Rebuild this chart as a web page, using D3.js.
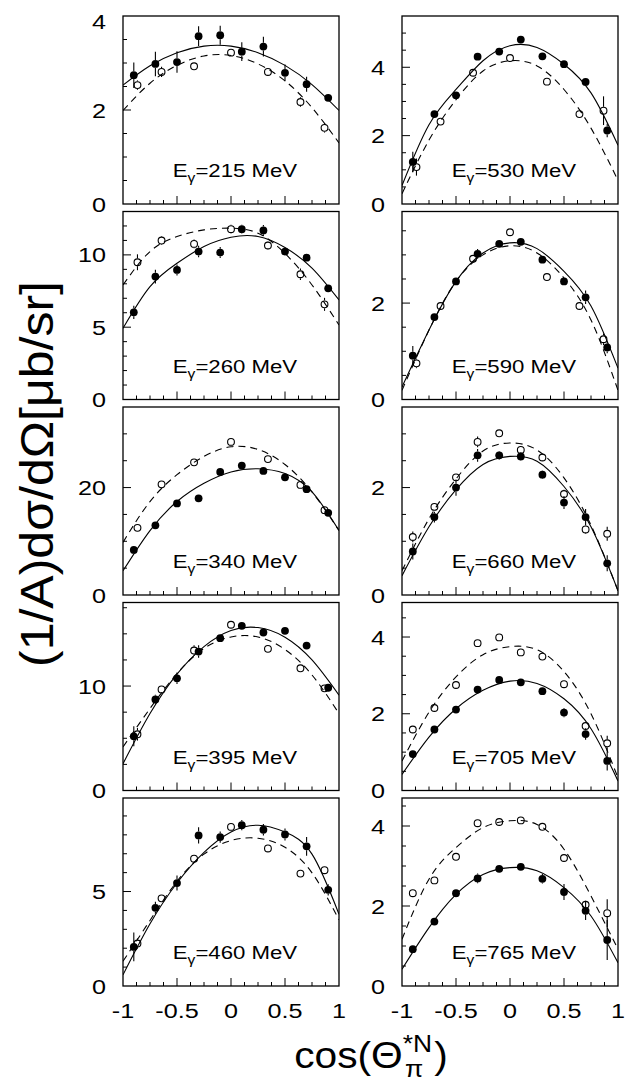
<!DOCTYPE html>
<html><head><meta charset="utf-8">
<script src="https://cdn.jsdelivr.net/npm/d3@7"></script>
<style>
body{margin:0;background:#fff}
svg{display:block}
text{font-family:"Liberation Sans",Arial,sans-serif;fill:#000}
</style>
</head><body>
<svg id="chart" width="631" height="1084"></svg>
<script>
// ---------------- data ----------------
const energies = [215, 530, 260, 590, 340, 660, 395, 705, 460, 765];
const yMax   = [4, 5.5, 13, 3.9, 35, 3.5, 18, 4.9, 9.95, 4.7];
const yMajor = [2, 2, 5, 2, 20, 2, 10, 2, 5, 2];
const yMinor = [0.5, 0.5, 1, 0.5, 5, 0.5, 2.5, 0.5, 1, 0.5];
const xTickValues = [-1, -0.5, 0, 0.5, 1];
const xTickLabels = ["-1", "-0.5", "0", "0.5", "1"];
const cosFine = [-0.9, -0.7, -0.5, -0.3, -0.1, 0.1, 0.3, 0.5, 0.7, 0.9];
const cosBins = [-0.866, -0.643, -0.342, 0, 0.342, 0.643, 0.866];
const cosCurve = [-1, -0.75, -0.5, -0.25, 0, 0.25, 0.5, 0.75, 1];
const openOnFine = [false, false, false, false, false, true, false, true, false, true];

const filledY = [
  [2.74, 2.98, 3.02, 3.57, 3.59, 3.24, 3.35, 2.79, 2.55, 2.26],
  [1.23, 2.63, 3.18, 4.31, 4.46, 4.81, 4.32, 4.09, 3.57, 2.15],
  [6.03, 8.5, 8.96, 10.23, 10.16, 11.78, 11.69, 10.23, 9.81, 7.69],
  [0.91, 1.71, 2.45, 3.02, 3.23, 3.27, 2.90, 2.45, 2.12, 1.08],
  [8.4, 12.98, 17.05, 18.0, 22.9, 24.1, 23.1, 21.9, 19.7, 15.3],
  [0.81, 1.45, 2.0, 2.6, 2.6, 2.58, 2.24, 1.72, 1.45, 0.59],
  [5.19, 8.72, 10.74, 13.3, 14.58, 15.77, 15.13, 15.29, 13.88, 9.84],
  [0.95, 1.59, 2.11, 2.63, 2.88, 2.82, 2.59, 2.03, 1.47, 0.77],
  [2.07, 4.14, 5.45, 7.97, 7.88, 8.51, 8.27, 8.02, 7.39, 5.09],
  [0.92, 1.61, 2.32, 2.69, 2.93, 2.98, 2.68, 2.35, 1.88, 1.15]
];
const filledErr = [
  [0.27, 0.26, 0.23, 0.21, 0.2, 0.2, 0.21, 0.18, 0.16, 0.08],
  [0.3, 0.1, 0.08, 0.08, 0.08, 0.08, 0.08, 0.08, 0.1, 0.2],
  [0.46, 0.48, 0.38, 0.4, 0.38, 0.3, 0.38, 0.2, 0.2, 0.2],
  [0.2, 0.08, 0.08, 0.1, 0.06, 0.06, 0.06, 0.08, 0.14, 0.12],
  [0.5, 0.5, 0.5, 0.5, 0.5, 0.5, 0.5, 0.5, 0.5, 0.6],
  [0.15, 0.1, 0.15, 0.12, 0.08, 0.08, 0.08, 0.12, 0.15, 0.15],
  [0.96, 0.45, 0.55, 0.6, 0.3, 0.3, 0.3, 0.3, 0.3, 0.3],
  [0.08, 0.06, 0.08, 0.1, 0.06, 0.06, 0.06, 0.12, 0.15, 0.25],
  [0.76, 0.32, 0.4, 0.43, 0.3, 0.27, 0.3, 0.32, 0.5, 0.3],
  [0.08, 0.06, 0.1, 0.12, 0.06, 0.06, 0.12, 0.2, 0.23, 0.5]
];
const openY = [
  [2.53, 2.81, 2.93, 3.22, 2.81, 2.17, 1.62],
  [1.08, 2.41, 3.84, 4.27, 3.58, 2.63, 2.73],
  [9.49, 10.99, 10.76, 11.78, 10.65, 8.66, 6.58],
  [0.75, 1.94, 2.92, 3.47, 2.54, 1.94, 1.25],
  [12.5, 20.6, 24.7, 28.5, 25.3, 20.5, 15.8],
  [1.08, 1.64, 2.19, 2.85, 3.01, 2.70, 2.56, 1.88, 1.22, 1.14],
  [5.38, 9.68, 13.4, 15.87, 13.56, 11.7, 9.78],
  [1.59, 2.15, 2.75, 3.84, 3.99, 3.6, 3.49, 2.77, 1.68, 1.23],
  [2.25, 4.64, 6.74, 8.42, 7.28, 5.95, 6.13],
  [2.32, 2.64, 3.23, 4.07, 4.1, 4.14, 3.98, 3.2, 2.03, 1.82]
];
const openErr = [
  [0.1, 0.11, 0.08, 0.08, 0.08, 0.1, 0.1],
  [0.25, 0.1, 0.08, 0.08, 0.08, 0.1, 0.42],
  [0.55, 0.3, 0.3, 0.3, 0.3, 0.4, 0.45],
  [0.1, 0.06, 0.06, 0.06, 0.06, 0.06, 0.12],
  [0.5, 0.5, 0.5, 0.5, 0.5, 0.5, 0.5],
  [0.1, 0.06, 0.06, 0.1, 0.06, 0.06, 0.06, 0.08, 0.08, 0.13],
  [0.6, 0.3, 0.5, 0.3, 0.3, 0.3, 0.3],
  [0.1, 0.06, 0.06, 0.06, 0.06, 0.06, 0.06, 0.06, 0.1, 0.2],
  [0.27, 0.2, 0.2, 0.2, 0.2, 0.2, 0.2],
  [0.08, 0.08, 0.08, 0.08, 0.06, 0.06, 0.08, 0.08, 0.1, 0.35]
];
const solidCurve = [
  [2.53, 2.94, 3.22, 3.36, 3.36, 3.22, 2.95, 2.54, 1.99],
  [0.54, 2.32, 3.35, 4.19, 4.63, 4.58, 4.09, 3.25, 1.72],
  [4.92, 7.8, 9.42, 10.58, 11.22, 11.27, 10.51, 9.08, 6.88],
  [0.26, 1.44, 2.45, 3.04, 3.25, 3.13, 2.66, 1.94, 0.65],
  [4.5, 12.0, 17.4, 20.8, 22.9, 23.5, 22.6, 19.2, 12.0],
  [0.36, 1.27, 1.96, 2.43, 2.58, 2.49, 2.02, 1.27, 0.08],
  [2.56, 7.37, 11.15, 13.78, 15.32, 15.6, 14.68, 12.5, 9.13],
  [0.42, 1.39, 2.13, 2.61, 2.85, 2.79, 2.39, 1.61, 0.25],
  [0.59, 3.29, 5.45, 7.07, 8.15, 8.51, 8.15, 6.98, 3.8],
  [0.42, 1.46, 2.29, 2.79, 2.96, 2.88, 2.46, 1.75, 0.58]
];
const dashedCurve = [
  [1.99, 2.57, 2.95, 3.15, 3.16, 2.98, 2.62, 2.05, 1.3],
  [0.3, 1.87, 3.05, 3.89, 4.19, 4.04, 3.35, 2.22, 0.69],
  [7.92, 10.23, 11.27, 11.73, 11.85, 11.5, 10.1, 7.92, 5.15],
  [0.19, 1.44, 2.45, 3.0, 3.19, 3.04, 2.52, 1.65, 0.19],
  [9.8, 17.4, 22.4, 25.8, 27.6, 27.1, 24.3, 19.2, 12.0],
  [0.45, 1.42, 2.16, 2.68, 2.83, 2.7, 2.18, 1.3, 0.08],
  [4.17, 7.85, 11.2, 13.6, 14.7, 14.7, 13.5, 11.06, 7.37],
  [0.77, 2.04, 2.96, 3.54, 3.75, 3.67, 3.1, 2.0, 0.33],
  [1.31, 3.47, 5.54, 6.98, 7.7, 7.82, 7.34, 5.99, 3.5],
  [1.17, 2.67, 3.46, 3.96, 4.13, 4.04, 3.42, 2.25, 0.92]
];

// ---------------- layout ----------------
const colX = [123, 402], PW = 216;
const top0 = 16, pitch = 195.5, PH = 188;
const SX = 1.2;          // horizontal stretch of glyphs in the original
const R = 3.9;           // marker radius

const svg = d3.select("#chart");

function stext(parent, x, y, str, size, anchor) {
  return parent.append("text")
    .attr("transform", `translate(${x},${y}) scale(${SX},1)`)
    .attr("text-anchor", anchor || "start")
    .attr("font-size", size)
    .text(str);
}

energies.forEach((E, i) => {
  const row = Math.floor(i / 2), col = i % 2;
  const x0 = colX[col], y0 = top0 + row * pitch;
  const x = d3.scaleLinear().domain([-1, 1]).range([x0, x0 + PW]);
  const y = d3.scaleLinear().domain([0, yMax[i]]).range([y0 + PH, y0]);
  const g = svg.append("g");

  const clipId = "clip" + i;
  g.append("clipPath").attr("id", clipId).append("rect")
    .attr("x", x0).attr("y", y0).attr("width", PW).attr("height", PH);

  // y axis ticks (inside, pointing right)
  const yt = d3.range(0, yMax[i] + 1e-9, yMinor[i]);
  yt.forEach(v => {
    const isMajor = Math.abs(v / yMajor[i] - Math.round(v / yMajor[i])) < 1e-6;
    if (v > 0 && v < yMax[i])
      g.append("line").attr("x1", x0).attr("x2", x0 + (isMajor ? 8 : 4))
        .attr("y1", y(v)).attr("y2", y(v)).attr("stroke", "#000").attr("stroke-width", 1);
    if (isMajor) {
      stext(g, x0 - 17, Math.max(y(v) + 7.5, y0 + 13), d3.format("~g")(v), 21, "end");
    }
  });

  // x axis ticks (inside, pointing up)
  d3.range(-1, 1.0001, 0.125).forEach(v => {
    const isMajor = Math.abs(v * 2 - Math.round(v * 2)) < 1e-6;
    if (v > -0.999 && v < 0.999)
      g.append("line").attr("x1", x(v)).attr("x2", x(v))
        .attr("y1", y0 + PH).attr("y2", y0 + PH - (isMajor ? 8 : 4))
        .attr("stroke", "#000").attr("stroke-width", 1);
  });
  if (row === 4) {
    xTickValues.forEach((v, k) => stext(g, x(v), y0 + PH + 32, xTickLabels[k], 21, "middle"));
  }

  // curves
  const line = d3.line().x((d, k) => x(cosCurve[k])).y(d => y(d)).curve(d3.curveNatural);
  g.append("path").attr("d", line(solidCurve[i])).attr("fill", "none")
    .attr("stroke", "#000").attr("stroke-width", 1.1).attr("clip-path", `url(#${clipId})`);
  g.append("path").attr("d", line(dashedCurve[i])).attr("fill", "none")
    .attr("stroke", "#000").attr("stroke-width", 1.1).attr("stroke-dasharray", "7,5")
    .attr("clip-path", `url(#${clipId})`);

  // error bars helper
  function errBar(cx, cy, e) {
    const yt = y(cy + e), yb = y(cy - e), yc = y(cy);
    if (yc - yt > R) g.append("line").attr("x1", x(cx)).attr("x2", x(cx))
      .attr("y1", yt).attr("y2", yc - R).attr("stroke", "#000").attr("stroke-width", 1.1);
    if (yb - yc > R) g.append("line").attr("x1", x(cx)).attr("x2", x(cx))
      .attr("y1", yc + R).attr("y2", yb).attr("stroke", "#000").attr("stroke-width", 1.1);
  }

  // open points
  const ox = openOnFine[i] ? cosFine : cosBins;
  openY[i].forEach((v, k) => {
    errBar(ox[k], v, openErr[i][k]);
    g.append("circle").attr("cx", x(ox[k])).attr("cy", y(v)).attr("r", R - 0.5)
      .attr("fill", "none").attr("stroke", "#000").attr("stroke-width", 1.1);
  });
  // filled points
  filledY[i].forEach((v, k) => {
    errBar(cosFine[k], v, filledErr[i][k]);
    g.append("circle").attr("cx", x(cosFine[k])).attr("cy", y(v)).attr("r", R)
      .attr("fill", "#000");
  });

  // frame
  g.append("rect").attr("x", x0).attr("y", y0).attr("width", PW).attr("height", PH)
    .attr("fill", "none").attr("stroke", "#000").attr("stroke-width", 1.3);

  // energy label
  const lt = g.append("text")
    .attr("transform", `translate(${x0 + PW / 2 + 4},${y0 + PH - 27}) scale(${SX},1)`)
    .attr("text-anchor", "middle").attr("font-size", 18.5);
  lt.append("tspan").text("E");
  lt.append("tspan").attr("font-size", 13).attr("dy", 5).text("γ");
  lt.append("tspan").attr("dy", -5).text("=" + E + " MeV");
});

// y axis title
svg.append("text")
  .attr("transform", `translate(53,474) rotate(-90) scale(1,0.92)`)
  .attr("text-anchor", "middle").attr("font-size", 50)
  .text("(1/A)dσ/dΩ[μb/sr]");

// x axis title
const XS = 1.1;
const xt = svg.append("g");
const t1 = xt.append("text").attr("font-size", 37).text("cos(Θ");
const w1 = t1.node().getComputedTextLength();
const sup = xt.append("text").attr("x", w1).attr("y", -16).attr("font-size", 24).text("*N");
xt.append("text").attr("x", w1 + 2).attr("y", 9).attr("font-size", 24).text("π");
const w2 = sup.node().getComputedTextLength();
const t4 = xt.append("text").attr("x", w1 + w2 + 2).attr("font-size", 37).text(")");
const wTot = w1 + w2 + 2 + t4.node().getComputedTextLength();
xt.attr("transform", `translate(${371 - wTot * XS / 2},1068) scale(${XS},1)`);
</script>
</body></html>
